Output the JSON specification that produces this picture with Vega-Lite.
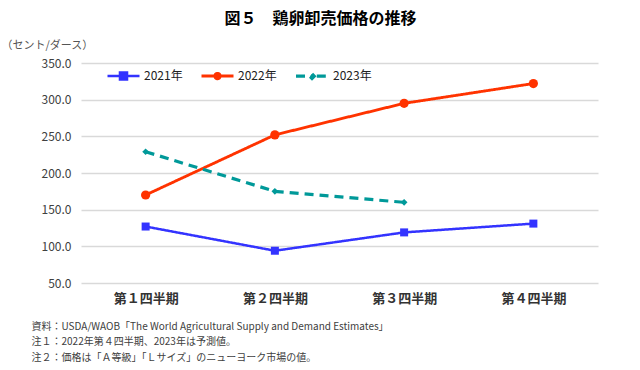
{
  "$schema": "https://vega.github.io/schema/vega-lite/v6.json",
  "autosize": "none",
  "width": 517,
  "height": 220,
  "padding": {"left": 81, "top": 63, "right": 42, "bottom": 87},
  "background": "white",
  "config": {
    "font": "Noto Sans CJK JP",
    "view": {"stroke": null}
  },
  "title": {
    "text": "図５　鶏卵卸売価格の推移",
    "fontSize": 16,
    "fontWeight": "bold",
    "color": "#000000",
    "anchor": "middle",
    "dx": -19,
    "offset": 12
  },
  "data": {
    "values": [
      {"q": "第１四半期", "year": "2021年", "v": 127},
      {"q": "第２四半期", "year": "2021年", "v": 94},
      {"q": "第３四半期", "year": "2021年", "v": 119},
      {"q": "第４四半期", "year": "2021年", "v": 131},
      {"q": "第１四半期", "year": "2022年", "v": 170},
      {"q": "第２四半期", "year": "2022年", "v": 252},
      {"q": "第３四半期", "year": "2022年", "v": 295},
      {"q": "第４四半期", "year": "2022年", "v": 322},
      {"q": "第１四半期", "year": "2023年", "v": 229},
      {"q": "第２四半期", "year": "2023年", "v": 175},
      {"q": "第３四半期", "year": "2023年", "v": 160}
    ]
  },
  "encoding": {
    "x": {
      "field": "q",
      "type": "nominal",
      "sort": ["第１四半期", "第２四半期", "第３四半期", "第４四半期"],
      "scale": {"paddingInner": 0, "paddingOuter": 0},
      "axis": {
        "labelAngle": 0,
        "labelFontSize": 13,
        "labelFontWeight": "bold",
        "labelColor": "#333333",
        "labelPadding": 9,
        "ticks": false,
        "domain": false,
        "title": [
          "資料：USDA/WAOB「The World Agricultural Supply and Demand Estimates」",
          "注１：2022年第４四半期、2023年は予測値。",
          "注２：価格は「Ａ等級」「Ｌサイズ」のニューヨーク市場の値。"
        ],
        "titleFontSize": 10,
        "titleFontWeight": "normal",
        "titleColor": "#404040",
        "titleAlign": "left",
        "titleAnchor": "start",
        "titleBaseline": "top",
        "titleX": -50,
        "titleY": 38,
        "titleLineHeight": 15.5
      }
    },
    "y": {
      "field": "v",
      "type": "quantitative",
      "scale": {"domain": [50, 350], "nice": false, "zero": false},
      "axis": {
        "values": [50, 100, 150, 200, 250, 300, 350],
        "format": ".1f",
        "labelFontSize": 12,
        "labelColor": "#404040",
        "labelPadding": 10,
        "ticks": false,
        "domain": false,
        "grid": true,
        "gridColor": "#d9d9d9",
        "gridWidth": 1.3,
        "title": "（セント/ダース）",
        "titleAngle": 0,
        "titleAlign": "left",
        "titleBaseline": "middle",
        "titleFontSize": 11,
        "titleFontWeight": "normal",
        "titleColor": "#555555",
        "titleX": -80,
        "titleY": -18
      }
    },
    "color": {
      "field": "year",
      "type": "nominal",
      "scale": {"domain": ["2021年", "2022年", "2023年"], "range": ["#3333ff", "#ff3300", "#009999"]},
      "legend": {
        "title": null,
        "orient": "none",
        "direction": "horizontal",
        "legendX": 25,
        "legendY": -5,
        "padding": 0,
        "symbolSize": 1024,
        "symbolStrokeWidth": 2.5,
        "labelFontSize": 12,
        "labelColor": "#222222",
        "labelOffset": 3,
        "columnPadding": 12,
        "encoding": {
          "symbols": {
            "shape": {"value": {"expr": "datum.value == '2021年' ? 'M-1,0H1M-0.22,-0.22H0.22V0.22H-0.22Z' : datum.value == '2022年' ? 'M-1,0H1M0.17,0A0.17,0.17,0,1,1,-0.17,0A0.17,0.17,0,1,1,0.17,0Z' : 'M-1,0H-0.3M0.3,0H1M0,-0.14L0.14,0L0,0.14L-0.14,0Z'"}},
            "fill": {"value": {"expr": "scale('color', datum.value)"}},
            "stroke": {"value": {"expr": "scale('color', datum.value)"}},
            "strokeWidth": {"value": 2.5},
            "opacity": {"value": 1},
            "fillOpacity": {"value": 1},
            "strokeOpacity": {"value": 1}
          }
        }
      }
    }
  },
  "layer": [
    {
      "mark": {"type": "line"},
      "encoding": {
        "strokeDash": {
          "field": "year",
          "type": "nominal",
          "scale": {"domain": ["2021年", "2022年", "2023年"], "range": [[1, 0], [1, 0], [9, 6]]},
          "legend": null
        },
        "strokeWidth": {
          "field": "year",
          "type": "ordinal",
          "scale": {"domain": ["2021年", "2022年", "2023年"], "range": [2.5, 3.2, 2.5]},
          "legend": null
        }
      }
    },
    {
      "transform": [{"filter": "datum.year == '2021年'"}],
      "mark": {"type": "point", "filled": true, "opacity": 1, "shape": "square", "size": 64}
    },
    {
      "transform": [{"filter": "datum.year == '2022年'"}],
      "mark": {"type": "point", "filled": true, "opacity": 1, "shape": "circle", "size": 85}
    },
    {
      "transform": [{"filter": "datum.year == '2023年'"}],
      "mark": {"type": "point", "filled": true, "opacity": 1, "shape": "diamond", "size": 45}
    }
  ]
}
